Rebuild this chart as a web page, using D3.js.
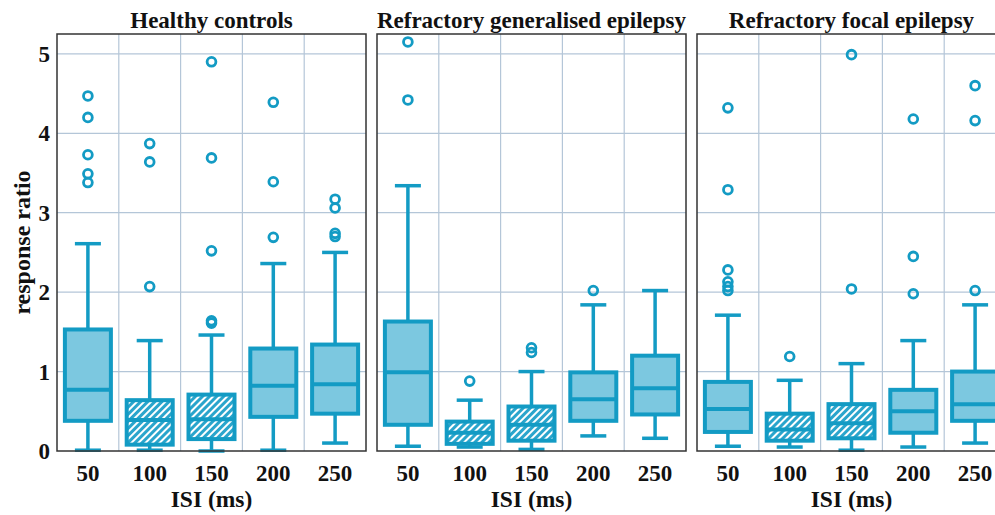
<!DOCTYPE html>
<html>
<head>
<meta charset="utf-8">
<script src="https://cdn.jsdelivr.net/npm/d3@7"></script>
<style>
  body { margin: 0; background: #fff; }
  svg { display: block; }
  text { font-family: "Liberation Serif", "Times New Roman", serif; font-weight: bold; fill: #111; }
</style>
</head>
<body>
<svg id="chart"></svg>
<script>
const isi = ['50', '100', '150', '200', '250'];
const groups = ['Healthy controls', 'Refractory generalised epilepsy', 'Refractory focal epilepsy'];
const hatchedIsi = ['100', '150'];
const yTicks = [0, 1, 2, 3, 4, 5];

// [whisker low, q1, median, q3, whisker high] per ISI
const healthyStats = [
  [0.01, 0.38, 0.77, 1.53, 2.61],
  [0.01, 0.08, 0.39, 0.64, 1.39],
  [0.00, 0.15, 0.40, 0.71, 1.46],
  [0.01, 0.43, 0.82, 1.29, 2.36],
  [0.10, 0.47, 0.84, 1.34, 2.50],
];
const healthyOutliers = [
  [4.47, 4.20, 3.73, 3.49, 3.38],
  [3.87, 3.64, 2.07],
  [4.90, 3.69, 2.52, 1.64, 1.61],
  [4.39, 3.39, 2.69],
  [3.17, 3.06, 2.74, 2.70],
];

const generalisedStats = [
  [0.06, 0.33, 0.99, 1.63, 3.34],
  [0.05, 0.09, 0.23, 0.37, 0.64],
  [0.02, 0.13, 0.33, 0.56, 1.00],
  [0.19, 0.38, 0.65, 0.99, 1.84],
  [0.16, 0.46, 0.79, 1.20, 2.02],
];
const generalisedOutliers = [
  [5.15, 4.42],
  [0.88],
  [1.30, 1.24],
  [2.02],
  [],
];

const focalStats = [
  [0.06, 0.24, 0.53, 0.87, 1.71],
  [0.05, 0.13, 0.27, 0.47, 0.89],
  [0.01, 0.16, 0.35, 0.59, 1.10],
  [0.05, 0.23, 0.50, 0.77, 1.39],
  [0.10, 0.38, 0.59, 1.00, 1.84],
];
const focalOutliers = [
  [4.32, 3.29, 2.28, 2.13, 2.07, 2.02],
  [1.19],
  [4.99, 2.04],
  [4.18, 2.45, 1.98],
  [4.60, 4.16, 2.02],
];

const stats = [healthyStats, generalisedStats, focalStats];
const outliers = [healthyOutliers, generalisedOutliers, focalOutliers];

const width = 995;
const height = 515;
const panelLeft = 57;
const panelWidth = 309;
const panelGap = 11;
const plotTop = 34;
const plotBottom = 451;

const blue = '#139bc4';
const fill = '#7cc8e0';
const gridColor = '#b4c6d8';

const svg = d3.select('#chart')
  .attr('width', width)
  .attr('height', height);

const defs = svg.append('defs');
const pattern = defs.append('pattern')
  .attr('id', 'hatch')
  .attr('patternUnits', 'userSpaceOnUse')
  .attr('width', 5)
  .attr('height', 5)
  .attr('patternTransform', 'rotate(45)');
pattern.append('rect')
  .attr('width', 5)
  .attr('height', 5)
  .attr('fill', '#2aa5cc');
pattern.append('rect')
  .attr('x', 0)
  .attr('width', 2)
  .attr('height', 5)
  .attr('fill', '#fff');

const y = d3.scaleLinear()
  .domain([0, 5.25])
  .range([plotBottom, plotTop]);

groups.forEach((title, gi) => {
  const x0 = panelLeft + gi * (panelWidth + panelGap);
  const x = d3.scaleBand()
    .domain(isi)
    .range([x0, x0 + panelWidth]);
  const bw = x.bandwidth();
  const boxW = 46;
  const capW = 26;

  const g = svg.append('g').attr('class', 'panel');

  // grid
  g.selectAll('.hgrid')
    .data(yTicks.filter(t => t > 0))
    .enter()
    .append('line')
    .attr('x1', x0)
    .attr('x2', x0 + panelWidth)
    .attr('y1', d => y(d))
    .attr('y2', d => y(d))
    .attr('stroke', gridColor)
    .attr('stroke-width', 1.2);

  g.selectAll('.vgrid')
    .data(isi.slice(1))
    .enter()
    .append('line')
    .attr('x1', d => x(d))
    .attr('x2', d => x(d))
    .attr('y1', plotTop)
    .attr('y2', plotBottom)
    .attr('stroke', gridColor)
    .attr('stroke-width', 1.2);

  const box = g.selectAll('.box')
    .data(isi.map((k, i) => ({ k, s: stats[gi][i], o: outliers[gi][i] })))
    .enter()
    .append('g')
    .attr('class', 'box');

  const cx = d => x(d.k) + bw / 2;

  // whiskers
  box.append('line')
    .attr('x1', cx).attr('x2', cx)
    .attr('y1', d => y(d.s[4])).attr('y2', d => y(d.s[3]))
    .attr('stroke', blue).attr('stroke-width', 3.5);
  box.append('line')
    .attr('x1', cx).attr('x2', cx)
    .attr('y1', d => y(d.s[1])).attr('y2', d => y(d.s[0]))
    .attr('stroke', blue).attr('stroke-width', 3.5);
  [0, 4].forEach(j => {
    box.append('line')
      .attr('x1', d => cx(d) - capW / 2).attr('x2', d => cx(d) + capW / 2)
      .attr('y1', d => y(d.s[j])).attr('y2', d => y(d.s[j]))
      .attr('stroke', blue).attr('stroke-width', 3.5);
  });

  box.append('rect')
    .attr('x', d => cx(d) - boxW / 2)
    .attr('width', boxW)
    .attr('y', d => y(d.s[3]))
    .attr('height', d => y(d.s[1]) - y(d.s[3]))
    .attr('fill', d => hatchedIsi.includes(d.k) ? 'url(#hatch)' : fill)
    .attr('stroke', blue)
    .attr('stroke-width', 4);

  box.append('line')
    .attr('x1', d => cx(d) - boxW / 2).attr('x2', d => cx(d) + boxW / 2)
    .attr('y1', d => y(d.s[2])).attr('y2', d => y(d.s[2]))
    .attr('stroke', blue).attr('stroke-width', 4);

  box.selectAll('.outlier')
    .data(d => d.o.map(v => ({ v, c: cx(d) })))
    .enter()
    .append('circle')
    .attr('cx', d => d.c)
    .attr('cy', d => y(d.v))
    .attr('r', 4.4)
    .attr('fill', 'none')
    .attr('stroke', blue)
    .attr('stroke-width', 2.8);

  // frame
  g.append('rect')
    .attr('x', x0)
    .attr('y', plotTop)
    .attr('width', panelWidth)
    .attr('height', plotBottom - plotTop)
    .attr('fill', 'none')
    .attr('stroke', '#333')
    .attr('stroke-width', 1.5);

  // x tick labels
  g.selectAll('.xtick')
    .data(isi)
    .enter()
    .append('text')
    .attr('x', d => x(d) + bw / 2)
    .attr('y', 481)
    .attr('text-anchor', 'middle')
    .style('font-size', '23px')
    .text(d => d);

  g.append('text')
    .attr('x', x0 + panelWidth / 2)
    .attr('y', 507)
    .attr('text-anchor', 'middle')
    .style('font-size', '23.5px')
    .text('ISI (ms)');

  g.append('text')
    .attr('x', x0 + panelWidth / 2)
    .attr('y', 28)
    .attr('text-anchor', 'middle')
    .style('font-size', '23px')
    .text(title);
});

// y axis labels
svg.selectAll('.ytick')
  .data(yTicks)
  .enter()
  .append('text')
  .attr('x', 50)
  .attr('y', d => y(d) + 8)
  .attr('text-anchor', 'end')
  .style('font-size', '23px')
  .text(d => d);

svg.append('text')
  .attr('transform', `translate(30, ${(plotTop + plotBottom) / 2}) rotate(-90)`)
  .attr('text-anchor', 'middle')
  .style('font-size', '24px')
  .text('response ratio');
</script>
</body>
</html>
